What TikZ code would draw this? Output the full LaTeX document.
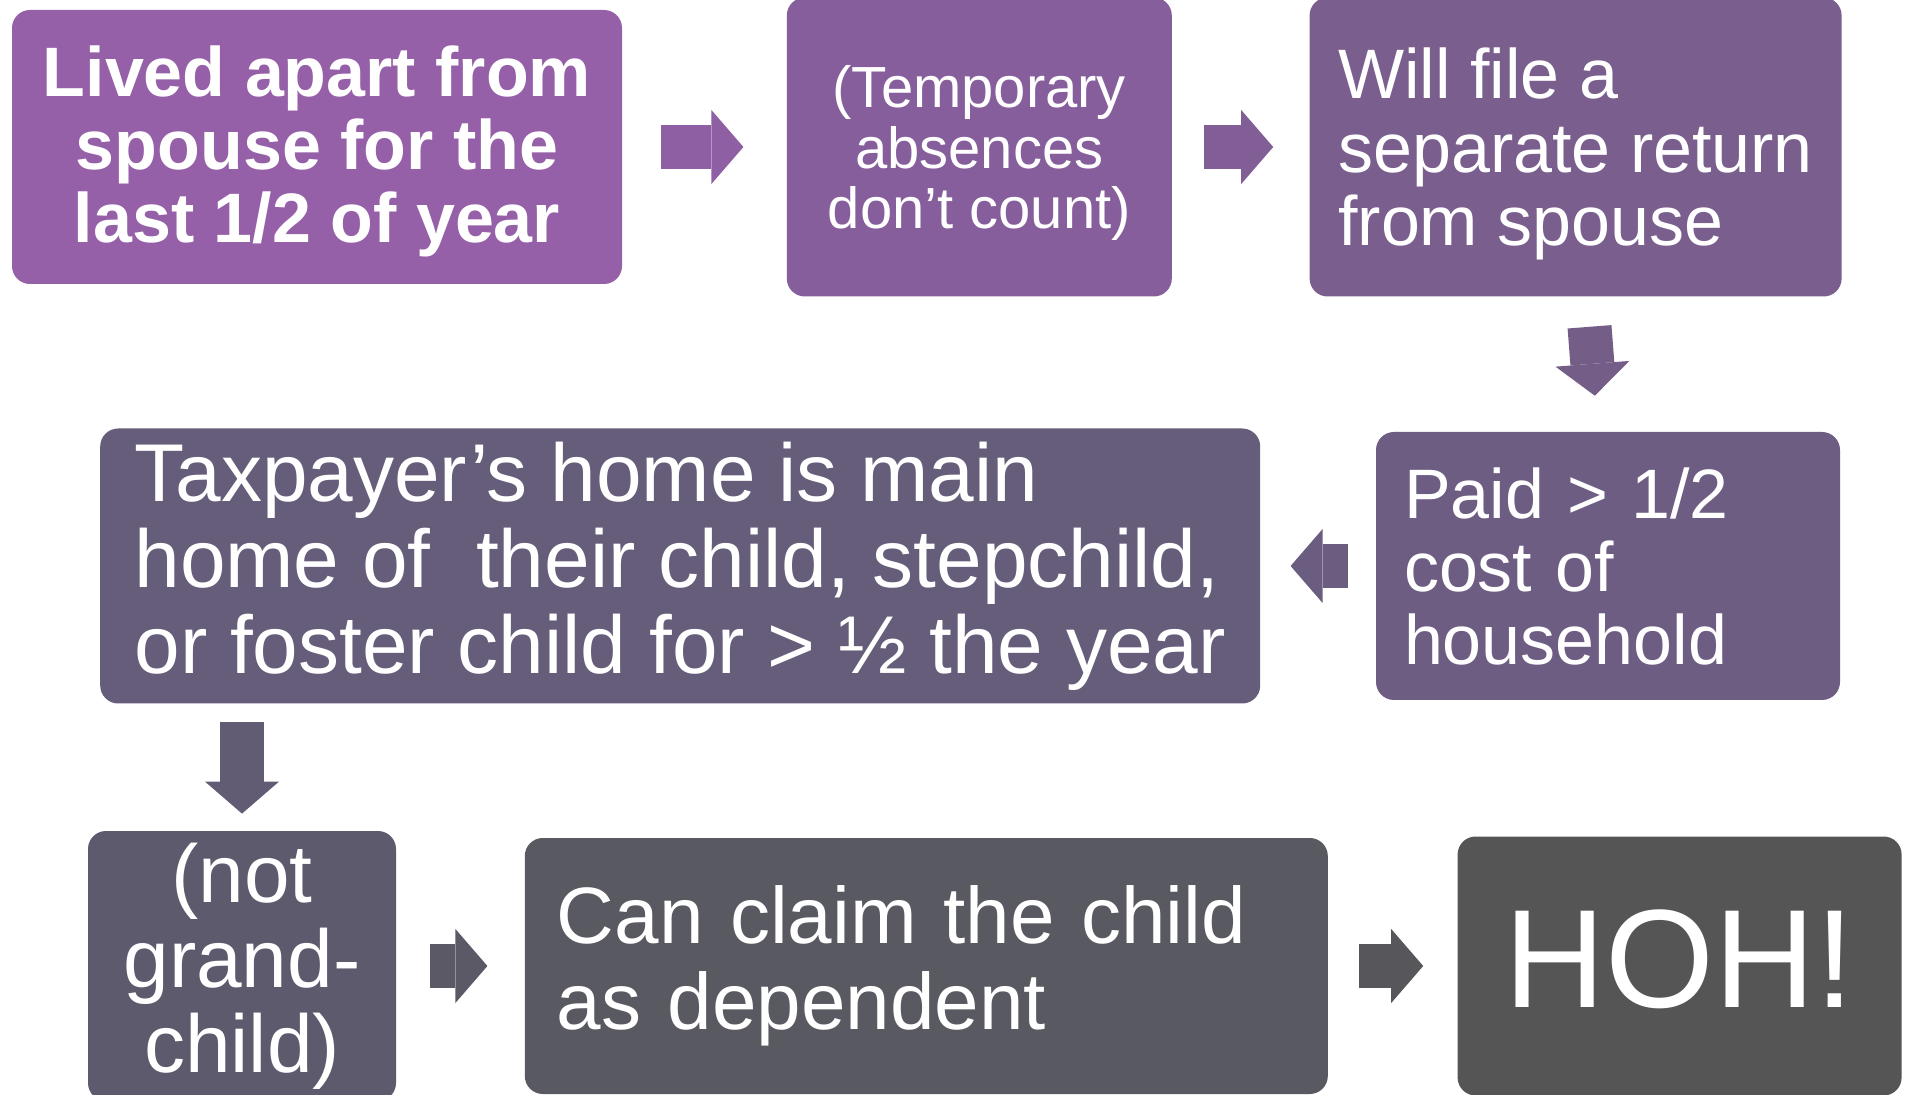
\documentclass[tikz,border=0pt]{standalone}
\usepackage{fontspec}
\setmainfont{Liberation Sans}
\usepackage{tikz}
\usetikzlibrary{positioning,arrows.meta,calc}
\definecolor{hohA}{HTML}{9660A8}
\definecolor{hohB}{HTML}{865E9C}
\definecolor{hohC}{HTML}{7A5E8E}
\definecolor{hohD}{HTML}{6E5D83}
\definecolor{hohE}{HTML}{665D7A}
\definecolor{hohF}{HTML}{5E5A6E}
\definecolor{hohG}{HTML}{595961}
\definecolor{hohH}{HTML}{555555}

\begin{document}
\begin{tikzpicture}[
  x=1pt, y=1pt,
  box/.style={
    rectangle, rounded corners=9pt,
    fill=#1, draw=none, text=white,
    inner xsep=12pt, inner ysep=0pt, align=center
  },
  lbox/.style={box=#1, align=left},
  blk/.style={
    draw=#1, line width=22pt,
    -{Triangle[length=16pt,width=37pt,line width=0pt]}
  },
]

% === Canvas ===
\fill[white] (0,0) rectangle (953,-547.5);
\useasboundingbox (0,0) rectangle (953,-547.5);

% === Top row ===
\node[box=hohA, minimum width=305pt, minimum height=137pt, text depth=3pt,
      font=\fontsize{35pt}{36.5pt}\selectfont\bfseries] (lived) at (158.5,-73.5)
  {Lived apart from\\spouse for the\\last 1/2 of year};

\node[box=hohB, minimum width=192.5pt, minimum height=149.5pt, text depth=0pt,
      font=\fontsize{29pt}{30.4pt}\selectfont, right=82pt of lived] (temp)
  {(Temporary\\absences\\don’t count)};

\node[lbox=hohC, minimum width=266pt, minimum height=149.5pt, text depth=0pt,
      font=\fontsize{35pt}{36.8pt}\selectfont, right=68.5pt of temp] (sep)
  {Will file a\\separate return\\from spouse};

% === Middle row ===
\node[lbox=hohD, minimum width=232pt, minimum height=134pt, text width=204pt,
      inner xsep=14pt, font=\fontsize{35pt}{36.5pt}\selectfont] (paid) at (804,-283)
  {Paid > 1/2\\cost of\\household};

\node[lbox=hohE, minimum width=580pt, minimum height=137.5pt,
      font=\fontsize{41pt}{43pt}\selectfont, left=57.5pt of paid] (home)
  {Taxpayer’s home is main\\home of~ their child, stepchild,\\or foster child for > ½ the year};

% === Bottom row ===
\node[box=hohF, minimum width=154pt, minimum height=135pt,
      font=\fontsize{41pt}{42.5pt}\selectfont] (grand) at (121,-483)
  {(not\\grand-\\child)};

\node[lbox=hohG, minimum width=401.5pt, minimum height=128pt, text width=369.5pt,
      inner xsep=16pt, font=\fontsize{40pt}{43pt}\selectfont, right=64pt of grand] (claim)
  {Can claim the child\\as dependent};

\node[box=hohH, minimum width=222pt, minimum height=129.5pt, text depth=7pt,
      font=\fontsize{70pt}{72pt}\selectfont, right=64.5pt of claim] (hoh)
  {HOH!};

% === Block arrows ===
\draw[blk=hohA!55!hohB, shorten <=19.5pt, shorten >=21.5pt] (lived) -- (temp);
\draw[blk=hohB!60!hohC, shorten <=16pt, shorten >=18pt] (temp) -- (sep);
\draw[blk=hohC!50!hohD, shorten <=15pt, shorten >=18pt] (sep) -- (paid);
\draw[blk=hohD!60!hohE, shorten <=14pt, shorten >=15pt] (paid) -- (home);
\draw[blk=hohE!40!hohF, shorten <=9pt, shorten >=8.5pt]
  (home.south -| grand.north) -- (grand.north);
\draw[blk=hohF!50!hohG, shorten <=17pt, shorten >=18.5pt] (grand) -- (claim);
\draw[blk=hohG!50!hohH, shorten <=15.5pt, shorten >=17pt] (claim) -- (hoh);

\end{tikzpicture}
\end{document}
